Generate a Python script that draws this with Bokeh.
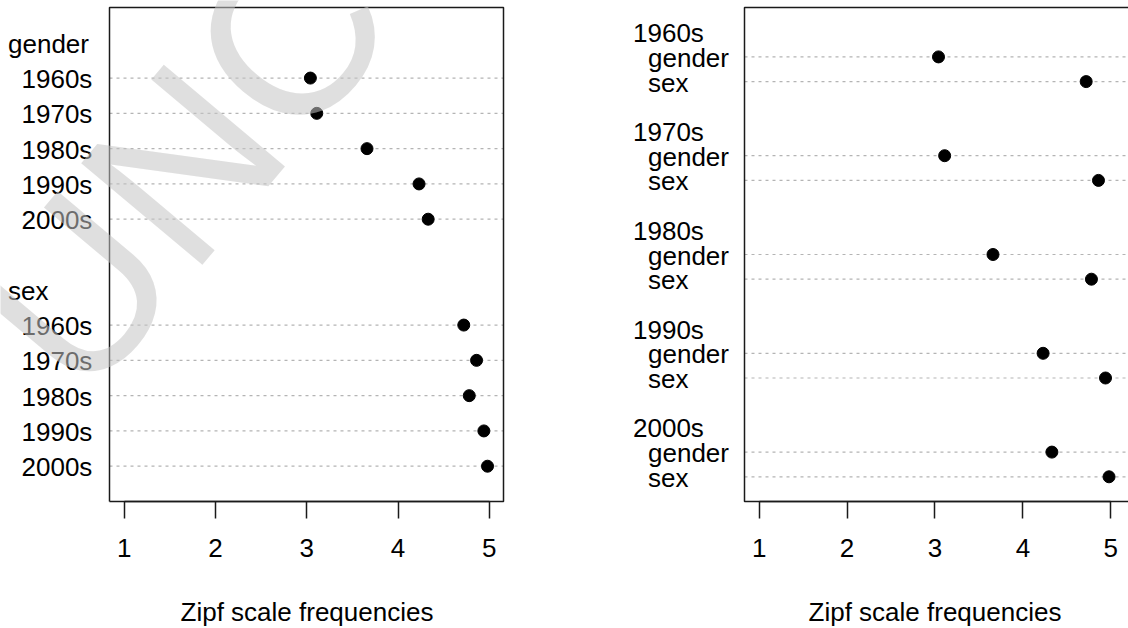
import math
from bokeh.plotting import figure
from bokeh.models import Label, FixedTicker, Range1d
from bokeh.layouts import row
from bokeh.embed import file_html
from bokeh.resources import INLINE
from bokeh.core.properties import value

# ---- data ----
decades = ["1960s", "1970s", "1980s", "1990s", "2000s"]
terms = ["gender", "sex"]
gender_zipf = [3.04, 3.11, 3.66, 4.23, 4.33]
sex_zipf = [4.72, 4.86, 4.78, 4.94, 4.98]
x_ticks = [1, 2, 3, 4, 5]
x_title = "Zipf scale frequencies"
watermark_text = "UNCORRECTED PROOF"

FONT = "Liberation Sans"
FS = "26px"
INK = "#1a1a1a"
GRID = "#b4b4b4"
H = 628
BOX_TOP_PX, BOX_BOTTOM_PX = 7, 501


class Geom:
    """Maps page pixels of one panel to its data coordinates (R-style plot region)."""

    def __init__(self, canvas_left, width, box_left_px, box_x0, ppu_x, y_top):
        self.canvas_left = canvas_left
        self.width = width
        self.box_left_px = box_left_px
        self.box_x0 = box_x0
        self.ppu_x = ppu_x
        self.y_top = y_top
        self.ppu_y = (BOX_BOTTOM_PX - BOX_TOP_PX) / y_top

    def x_at(self, px):
        return self.box_x0 + (px - self.box_left_px) / self.ppu_x

    def y_at(self, py):
        return (BOX_BOTTOM_PX - py) / self.ppu_y

    def ranges(self):
        return (Range1d(self.x_at(self.canvas_left), self.x_at(self.canvas_left + self.width)),
                Range1d(self.y_at(H), self.y_at(0)))


def make_fig(g):
    xr, yr = g.ranges()
    p = figure(width=g.width, height=H, x_range=xr, y_range=yr, output_backend="svg",
               toolbar_location=None, min_border=0)
    p.outline_line_color = None
    p.background_fill_color = "white"
    p.border_fill_color = "white"
    p.grid.visible = False
    p.yaxis.visible = False
    ax = p.xaxis[0]
    ax.fixed_location = 0
    ax.bounds = (x_ticks[0], x_ticks[-1])
    ax.ticker = FixedTicker(ticks=x_ticks)
    ax.axis_label = x_title
    ax.axis_label_text_font = FONT
    ax.axis_label_text_font_size = FS
    ax.axis_label_text_font_style = "normal"
    ax.axis_label_text_color = "black"
    ax.axis_label_standoff = 37
    ax.major_label_text_font = FONT
    ax.major_label_text_font_size = FS
    ax.major_label_text_color = "black"
    ax.major_label_standoff = 20
    ax.major_tick_out = 17
    ax.major_tick_in = 0
    ax.minor_tick_out = 0
    ax.minor_tick_in = 0
    ax.major_tick_line_width = 1.5
    ax.major_tick_line_color = INK
    ax.axis_line_width = 1.5
    ax.axis_line_color = INK
    return p


def grid_rows(p, x0, x1, rows):
    p.segment(x0=[x0] * len(rows), x1=[x1] * len(rows), y0=rows, y1=rows,
              line_color=GRID, line_dash="3 4", line_width=1.2)


def texts(p, x, ys, labels):
    p.text(x=[x] * len(ys), y=ys, text=labels, text_font=value(FONT),
           text_font_size=value(FS), text_color="black", text_align="left",
           text_baseline="middle", y_offset=1)


n = len(decades)

# ---------- left panel: grouped by term ----------
W1 = 560
L_BOX = (0.84, 5.155)
gl = Geom(0, W1, 109, L_BOX[0], (503 - 109) / (L_BOX[1] - L_BOX[0]), 14)
left_rows = {"gender": [12 - i for i in range(n)], "sex": [5 - i for i in range(n)]}
left_group_y = [13, 6]

p1 = make_fig(gl)
grid_rows(p1, L_BOX[0], L_BOX[1], left_rows["gender"] + left_rows["sex"])
p1.line(x=[L_BOX[0], L_BOX[1], L_BOX[1], L_BOX[0], L_BOX[0]], y=[0, 0, 14, 14, 0],
        line_color=INK, line_width=1.5)
for term, vals in zip(terms, [gender_zipf, sex_zipf]):
    p1.scatter(x=vals, y=left_rows[term], size=12, color="black")
    texts(p1, gl.x_at(21), left_rows[term], decades)
texts(p1, gl.x_at(7.5), left_group_y, terms)

# ---------- right panel: grouped by decade ----------
W2 = 1128 - W1
R_X0 = 0.833
gr = Geom(W1, W2, 744, R_X0, 87.9, 20)
gy = [19 - 4 * i for i in range(n)]
gen_y = [18 - 4 * i for i in range(n)]
sex_y = [17 - 4 * i for i in range(n)]
R_X1 = gr.x_at(1128 + 20)  # right side of the box lies beyond the picture

p2 = make_fig(gr)
grid_rows(p2, R_X0, R_X1, gen_y + sex_y)
p2.line(x=[R_X1, R_X0, R_X0, R_X1], y=[20, 20, 0, 0], line_color=INK, line_width=1.5)
p2.scatter(x=gender_zipf, y=gen_y, size=12, color="black")
p2.scatter(x=sex_zipf, y=sex_y, size=12, color="black")
texts(p2, gr.x_at(632.5), gy, decades)
texts(p2, gr.x_at(647.5), gen_y, [terms[0]] * n)
texts(p2, gr.x_at(647.5), sex_y, [terms[1]] * n)

# ---------- watermark (light grey, over the left panel) ----------
p1.add_layout(Label(x=gl.x_at(22), y=gl.y_at(355), x_units="data", y_units="data",
                    text=watermark_text, angle=math.radians(50), text_font=FONT,
                    text_font_size="230px", text_color="#c4c4c4", text_alpha=0.55,
                    text_align="left", text_baseline="alphabetic"))

layout = row(p1, p2)
open("out.html", "w").write(file_html(layout, INLINE))
